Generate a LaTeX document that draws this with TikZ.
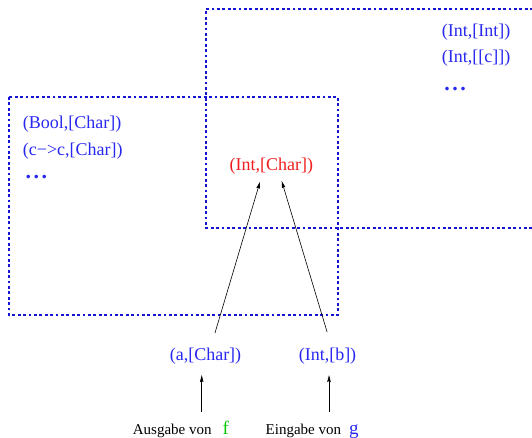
\documentclass[tikz,border=0pt]{standalone}
\usepackage{fontspec}
\setmainfont{Liberation Serif}
\usetikzlibrary{arrows.meta}
\definecolor{tblue}{RGB}{40,40,240}
\definecolor{bblue}{RGB}{20,20,210}
\definecolor{tred}{RGB}{240,30,30}
\definecolor{tgreen}{RGB}{0,200,0}
\begin{document}
\begin{tikzpicture}[x=1pt,y=-1pt,
  box/.style={draw=bblue, line width=2.2pt, dash pattern=on 2.8pt off 2.6pt},
  lbl/.style={font=\fontsize{18}{20}\selectfont, text=tblue, inner sep=0pt, anchor=base west},
  clbl/.style={font=\fontsize{18}{20}\selectfont, text=tblue, inner sep=0pt, anchor=base},
  small/.style={font=\fontsize{15}{17}\selectfont, text=black, inner sep=0pt, anchor=base west},
  arr/.style={draw=black, line width=0.6pt, -{Stealth[length=7pt,width=3.5pt,inset=1pt]}},
  dots/.style={lbl, font=\bfseries\fontsize{22}{24}\selectfont}]
\useasboundingbox (0,0) rectangle (532,438);
% boxes
\draw[box] (9,97) rectangle (338,315);
\draw[box] (533,9) -- (206,9) -- (206,228) -- (533,228);
% left texts
\node[lbl] (bc) at (22.7,129) {(Bool,[Char])};
\node[lbl] (cc) at (22.7,156) {(c−>c,[Char])};
\node[dots] (ld) at (25.5,178.6) {.\hspace{2.5pt}.\hspace{2.5pt}.};
% right texts
\node[lbl] (ii) at (441.7,36.7) {(Int,[Int])};
\node[lbl] (ic2) at (441.7,63) {(Int,[[c]])};
\node[dots] (rd) at (444.2,90.2) {.\hspace{2.5pt}.\hspace{2.5pt}.};
% center
\node[clbl, text=tred] (ic) at (271.3,171) {(Int,[Char])};
\node[clbl] (a) at (205.5,360) {(a,[Char])};
\node[clbl] (b) at (327.5,360) {(Int,[b])};
% bottom
\node[small] (af) at (132.7,434) {Ausgabe von\hspace{11pt}{\color{tgreen}\fontsize{19}{20}\selectfont f}};
\node[small] (eg) at (265.5,434) {Eingabe von\hspace{8pt}{\color{tblue}\fontsize{19}{20}\selectfont g}};
% arrows
\draw[arr, shorten <=15pt] ([xshift=5.2pt]a.north) -- ([xshift=-11.3pt,yshift=-6.8pt]ic.south);
\draw[arr, shorten <=15.9pt] ([xshift=4.2pt]b.north) -- ([xshift=10.4pt,yshift=-6pt]ic.south);
\coordinate (fa) at (201.7,411.7);
\coordinate (gb) at (329,411.7);
\draw[arr, shorten >=11pt] (fa) -- (fa |- a.south);
\draw[arr, shorten >=11pt] (gb) -- (gb |- b.south);
\end{tikzpicture}
\end{document}
